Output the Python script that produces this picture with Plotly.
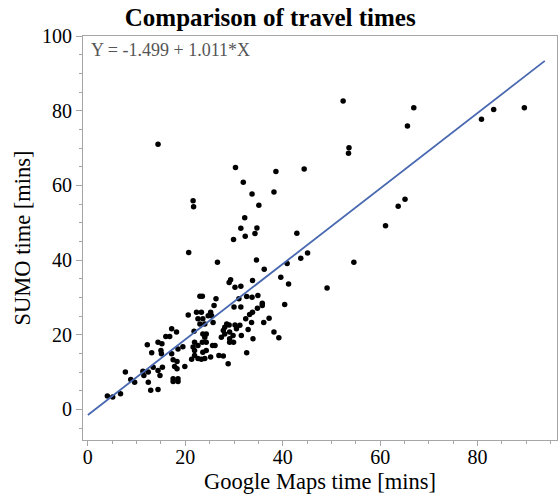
import plotly.graph_objects as go

# Google Maps time [mins]
google_x = [
    52.4, 66.9, 65.6, 53.6, 53.5, 44.4, 80.8, 83.3, 89.6, 65.1, 63.7, 61.1, 45.1, 43.7, 54.6, 49.1,
    14.4, 30.3, 38.6, 31.9, 33.7, 38.2, 21.6, 21.7, 35.1, 32.2, 31.4, 34.7, 34.3, 32.3, 29.9, 42.9,
    20.7, 34.6, 26.6, 36.2, 40.9, 29.3, 33.8, 39.6,
    31.4, 41.2, 32.6, 33.7, 34.9, 35.8, 35.8, 34.8, 31.4, 40.4, 33.8, 33.2, 32.4, 33.6, 37.2, 36.1,
    32.9, 38.2, 39.2, 33.9, 31.2,
    29.0, 30.2, 31.0, 23.0, 23.5, 26.3, 25.9, 30.0, 20.6, 22.3, 23.3, 25.2, 24.7, 25.4, 22.6, 23.6,
    25.7, 24.0, 23.0, 21.8, 23.6, 24.3, 24.0, 23.5, 24.3, 21.9, 21.6, 22.6, 21.9, 25.6, 26.1, 19.5,
    23.6, 24.3, 25.2, 21.9, 22.6, 21.3, 23.3, 24.0, 19.9, 26.9, 27.8, 28.8, 27.4, 27.8, 28.1, 28.5,
    29.0, 28.1, 29.1, 30.2, 30.5, 29.8, 29.1, 29.9, 29.1, 31.5, 32.6,
    4.0, 5.1, 6.7, 7.7, 8.8, 9.6, 11.3, 11.5, 12.4, 12.4, 12.9, 14.4, 12.2, 13.1, 14.4, 15.2,
    15.0, 15.1, 13.4, 14.4, 14.8, 15.3, 16.0, 16.8, 17.2, 18.2, 17.2, 17.5, 18.3, 17.8, 18.3, 17.5,
    18.5, 17.5, 18.5, 18.5,
]

# SUMO time [mins]
sumo_y = [
    82.6, 80.8, 75.9, 70.1, 68.6, 64.4, 77.7, 80.3, 80.8, 56.3, 54.4, 49.2, 41.9, 40.5, 39.4, 32.5,
    71.0, 64.8, 63.7, 60.8, 57.7, 58.2, 55.9, 54.3, 54.7, 51.3, 48.5, 48.6, 47.1, 46.4, 45.5, 47.2,
    42.0, 40.0, 39.4, 37.5, 39.1, 34.7, 34.5, 35.4,
    33.0, 33.6, 30.2, 30.0, 30.5, 28.4, 27.8, 27.1, 27.4, 28.1, 26.0, 25.4, 24.3, 23.3, 24.4, 23.3,
    21.4, 20.7, 19.2, 18.9, 22.5,
    34.0, 32.7, 29.6, 30.3, 30.3, 29.6, 27.8, 27.4, 25.3, 26.0, 26.0, 26.0, 25.1, 25.1, 24.3, 24.3,
    23.3, 22.9, 22.9, 20.9, 20.2, 20.2, 19.3, 18.0, 18.0, 18.0, 16.7, 17.1, 15.8, 17.1, 17.1, 16.8,
    15.3, 15.8, 14.0, 14.4, 13.6, 13.4, 13.4, 13.6, 11.5, 14.4, 14.3, 12.2, 19.3, 21.1, 22.0, 22.9,
    22.6, 20.2, 20.7, 22.6, 21.6, 19.8, 18.0, 18.0, 18.9, 19.8, 15.2,
    3.6, 3.3, 4.2, 10.0, 8.0, 7.3, 10.2, 9.1, 10.0, 7.3, 5.1, 5.3, 17.3, 15.2, 18.0, 17.6,
    15.8, 14.9, 11.3, 10.4, 9.1, 11.3, 19.5, 19.5, 21.6, 20.7, 14.9, 13.3, 12.8, 11.5, 10.9, 8.2,
    8.2, 7.5, 7.5, 16.2,
]

fit_intercept = -1.499
fit_slope = 1.011
fit_x = [0.0, 93.8]
fit_y = [fit_intercept + fit_slope * v for v in fit_x]

x_ticks = [0, 20, 40, 60, 80]
y_ticks = [0, 20, 40, 60, 80, 100]

FONT = "Liberation Serif, Times New Roman, serif"
AXIS_GRAY = "#a6a6a6"

fig = go.Figure()
fig.add_trace(go.Scatter(
    x=google_x, y=sumo_y, mode="markers",
    marker=dict(color="black", size=5.5),
    showlegend=False, hoverinfo="x+y",
))
fig.add_trace(go.Scatter(
    x=fit_x, y=fit_y, mode="lines",
    line=dict(color="#4868b0", width=1.8),
    showlegend=False,
))

fig.update_layout(
    width=558, height=497,
    margin=dict(l=83, r=1, t=36, b=57),
    paper_bgcolor="white", plot_bgcolor="white",
    font=dict(family=FONT, size=20, color="black"),
    title=dict(
        text="<b>Comparison of travel times</b>",
        font=dict(family=FONT, size=25, color="black"),
        x=0.395, xref="paper", xanchor="center",
        y=0.966, yref="container", yanchor="middle",
    ),
    annotations=[dict(
        text="Y = -1.499 + 1.011*X",
        xref="paper", yref="paper", x=0.012, y=0.996,
        xanchor="left", yanchor="top", showarrow=False,
        font=dict(family=FONT, size=18, color="#555555"),
    )],
)

fig.update_xaxes(
    range=[-1.0, 96.3], tickvals=x_ticks, showgrid=False, zeroline=False,
    showline=True, linecolor=AXIS_GRAY, linewidth=1, mirror=True,
    ticks="outside", ticklen=5, tickcolor=AXIS_GRAY, ticklabelstandoff=-6,
    minor=dict(dtick=5, ticks="outside", ticklen=3, tickcolor=AXIS_GRAY),
    tickfont=dict(family=FONT, size=20, color="black"),
    title=dict(text="Google Maps time [mins]", standoff=6,
               font=dict(family=FONT, size=22.5, color="black")),
)
fig.update_yaxes(
    range=[-8.2, 100], tickvals=y_ticks, showgrid=False, zeroline=False,
    showline=True, linecolor=AXIS_GRAY, linewidth=1, mirror=True,
    ticks="outside", ticklen=6, tickcolor=AXIS_GRAY,
    minor=dict(dtick=5, ticks="outside", ticklen=3, tickcolor=AXIS_GRAY),
    tickfont=dict(family=FONT, size=20, color="black"),
    title=dict(text="SUMO time [mins]", standoff=5,
               font=dict(family=FONT, size=22.5, color="black")),
)

fig.write_html("out.html")
